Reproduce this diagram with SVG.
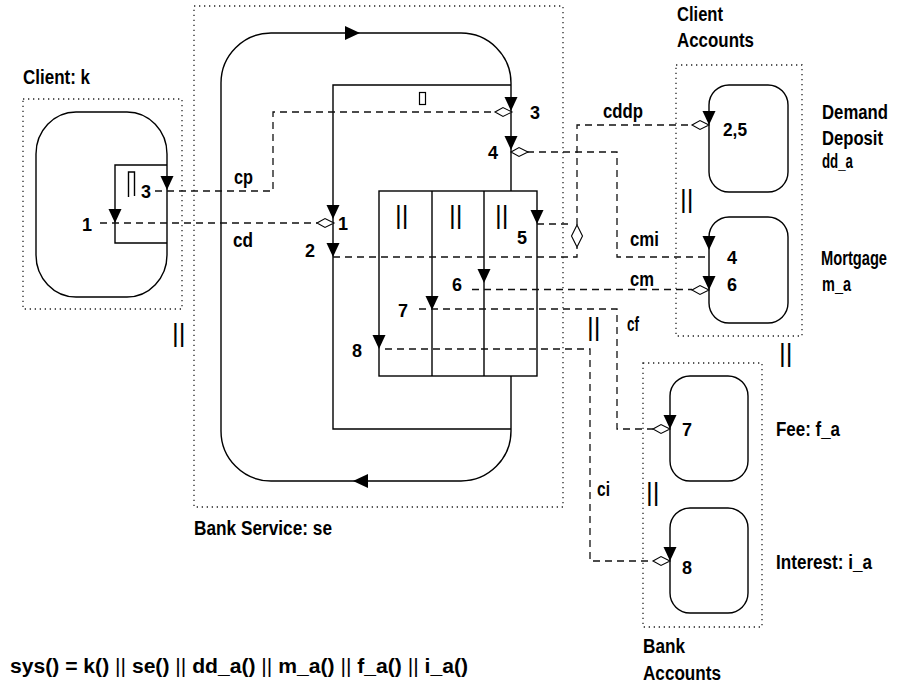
<svg xmlns="http://www.w3.org/2000/svg" xmlns:xlink="http://www.w3.org/1999/xlink" width="902" height="686" viewBox="0 0 902 686">
  <style>
    .lbl { font-family: "Liberation Sans", Arial, sans-serif; font-weight: bold; font-size: 19.5px; fill: #000; }
    .num { font-family: "Liberation Sans", Arial, sans-serif; font-weight: bold; font-size: 18px; fill: #000; }
    .par { font-family: "Liberation Sans", Arial, sans-serif; font-weight: normal; font-size: 26px; fill: #000; }
    .frame { fill: none; stroke: #222; stroke-width: 1.3; stroke-dasharray: 1.3 3.7; }
    .loop { fill: none; stroke: #000; stroke-width: 1.4; }
    .chan { fill: none; stroke: #111; stroke-width: 1.3; stroke-dasharray: 7 5; }
    .head { fill: #000; stroke: none; }
    .dia { fill: #fff; stroke: #000; stroke-width: 1.1; }
  </style>
  <defs>
    <path id="tri" d="M-6.5,-14 L6.5,-14 L0,0 Z"/>
    <path id="dmd" d="M0,0 L8,-4.5 L17,0 L8,4.5 Z"/>
  </defs>
  <rect width="902" height="686" fill="#fff"/>

  <!-- Client process -->
  <g id="client">
    <rect class="frame" x="23" y="99" width="159" height="210"/>
    <text class="lbl" x="23" y="84" textLength="67" lengthAdjust="spacingAndGlyphs">Client: k</text>
    <rect class="loop" x="36" y="112" width="131" height="185" rx="40" ry="42"/>
    <polyline class="loop" points="167,165 115,165 115,243 167,243"/>
    <polyline class="loop" points="128.5,197 128.5,172 134.5,172 134.5,196" stroke-width="1.2"/>
    <use href="#tri" x="167" y="190" class="head"/>
    <use href="#tri" x="115" y="223" class="head"/>
    <text class="num" x="141" y="198">3</text>
    <text class="num" x="82" y="231">1</text>
  </g>

  <!-- Bank service process -->
  <g id="bank-service">
    <rect class="frame" x="194" y="6" width="369" height="501"/>
    <text class="lbl" x="194" y="535" textLength="138" lengthAdjust="spacingAndGlyphs">Bank Service: se</text>
    <path class="loop" d="M511,191 V83 A50,50 0 0 0 461,33 H271 A50,50 0 0 0 221,83 V431 A50,50 0 0 0 271,481 H461 A50,50 0 0 0 511,431 V376"/>
    <polyline class="loop" points="511,85 333,85 333,429 511,429"/>
    <rect class="loop" x="379" y="191" width="158" height="185"/>
    <line class="loop" x1="432" y1="191" x2="432" y2="376"/>
    <line class="loop" x1="484" y1="191" x2="484" y2="376"/>
    <rect x="419.5" y="92.5" width="6" height="12" fill="none" stroke="#000" stroke-width="1.2"/>
    <text class="par" x="395" y="224">||</text>
    <text class="par" x="449" y="224">||</text>
    <text class="par" x="495" y="224">||</text>
    <path class="head" d="M345,26 L360,33 L345,40 Z"/>
    <path class="head" d="M368,474 L353,481 L368,488 Z"/>
    <use href="#tri" x="511" y="111" class="head"/>
    <use href="#tri" x="511" y="150" class="head"/>
    <use href="#tri" x="333" y="219" class="head"/>
    <use href="#tri" x="333" y="257" class="head"/>
    <use href="#tri" x="537" y="224" class="head"/>
    <use href="#tri" x="484" y="283" class="head"/>
    <use href="#tri" x="432" y="310" class="head"/>
    <use href="#tri" x="379" y="349" class="head"/>
    <text class="num" x="530" y="119">3</text>
    <text class="num" x="488" y="159">4</text>
    <text class="num" x="338" y="230">1</text>
    <text class="num" x="305" y="257">2</text>
    <text class="num" x="517" y="244">5</text>
    <text class="num" x="452" y="291">6</text>
    <text class="num" x="398" y="317">7</text>
    <text class="num" x="352" y="357">8</text>
  </g>

  <!-- Client accounts -->
  <g id="client-accounts">
    <rect class="frame" x="676" y="65" width="126" height="271"/>
    <text class="lbl" x="677" y="21" textLength="46" lengthAdjust="spacingAndGlyphs">Client</text>
    <text class="lbl" x="677" y="47" textLength="77" lengthAdjust="spacingAndGlyphs">Accounts</text>
    <text class="par" x="680" y="208">||</text>
  </g>
  <g id="demand-deposit">
    <rect class="loop" x="709" y="85" width="79" height="107" rx="20"/>
    <use href="#tri" x="709" y="125" class="head"/>
    <text class="num" x="723" y="136" textLength="24" lengthAdjust="spacingAndGlyphs">2,5</text>
    <text class="lbl" x="822" y="119" textLength="66" lengthAdjust="spacingAndGlyphs">Demand</text>
    <text class="lbl" x="822" y="145" textLength="61" lengthAdjust="spacingAndGlyphs">Deposit</text>
    <text class="lbl" x="822" y="168" textLength="31" lengthAdjust="spacingAndGlyphs">dd_a</text>
  </g>
  <g id="mortgage">
    <rect class="loop" x="709" y="217" width="79" height="106" rx="20"/>
    <use href="#tri" x="709" y="250" class="head"/>
    <use href="#tri" x="709" y="290" class="head"/>
    <text class="num" x="727" y="264">4</text>
    <text class="num" x="727" y="291">6</text>
    <text class="lbl" x="821" y="265" font-size="16" textLength="66" lengthAdjust="spacingAndGlyphs">Mortgage</text>
    <text class="lbl" x="822" y="291" textLength="29" lengthAdjust="spacingAndGlyphs">m_a</text>
  </g>

  <!-- Bank accounts -->
  <g id="bank-accounts">
    <rect class="frame" x="643" y="363" width="119" height="264"/>
    <text class="lbl" x="643" y="653" textLength="42" lengthAdjust="spacingAndGlyphs">Bank</text>
    <text class="lbl" x="643" y="680" textLength="78" lengthAdjust="spacingAndGlyphs">Accounts</text>
    <text class="par" x="646" y="501">||</text>
  </g>
  <g id="fee">
    <rect class="loop" x="670" y="376" width="78" height="105" rx="20"/>
    <use href="#tri" x="670" y="429" class="head"/>
    <text class="num" x="682" y="436">7</text>
    <text class="lbl" x="776" y="436" textLength="64" lengthAdjust="spacingAndGlyphs">Fee: f_a</text>
  </g>
  <g id="interest">
    <rect class="loop" x="670" y="508" width="78" height="105" rx="20"/>
    <use href="#tri" x="670" y="561" class="head"/>
    <text class="num" x="682" y="574">8</text>
    <text class="lbl" x="776" y="569" textLength="96" lengthAdjust="spacingAndGlyphs">Interest: i_a</text>
  </g>

  <!-- Channels between processes -->
  <g id="connectors">
    <path class="chan" d="M100,223 H317"/>
    <path class="chan" d="M155,191 H273 V112 H495"/>
    <path class="chan" d="M333,257 H577 V247"/>
    <path class="chan" d="M577,225 V125 H692"/>
    <path class="chan" d="M537,224 H571"/>
    <path class="chan" d="M527,152 H617 V257 H709"/>
    <path class="chan" d="M472,289.5 H692"/>
    <path class="chan" d="M419,309 H617 V429 H653"/>
    <path class="chan" d="M385,349 H590 V561 H653"/>
    <use href="#dmd" x="495" y="112" class="dia"/>
    <use href="#dmd" x="317" y="223" class="dia"/>
    <use href="#dmd" x="511" y="152" class="dia"/>
    <use href="#dmd" x="692" y="125" class="dia"/>
    <use href="#dmd" x="692" y="290" class="dia"/>
    <use href="#dmd" x="653" y="429" class="dia"/>
    <use href="#dmd" x="653" y="561" class="dia"/>
    <path class="dia" d="M577,225 L582.5,236 L577,247 L571.5,236 Z"/>
    <text class="lbl" x="234" y="184" textLength="19" lengthAdjust="spacingAndGlyphs">cp</text>
    <text class="lbl" x="233" y="247" textLength="20" lengthAdjust="spacingAndGlyphs">cd</text>
    <text class="lbl" x="603" y="118" textLength="40" lengthAdjust="spacingAndGlyphs">cddp</text>
    <text class="lbl" x="630" y="246" textLength="29" lengthAdjust="spacingAndGlyphs">cmi</text>
    <text class="lbl" x="630" y="286" textLength="24" lengthAdjust="spacingAndGlyphs">cm</text>
    <text class="lbl" x="627" y="331" textLength="12" lengthAdjust="spacingAndGlyphs">cf</text>
    <text class="lbl" x="597" y="496" textLength="13" lengthAdjust="spacingAndGlyphs">ci</text>
    <text class="par" x="172" y="342">||</text>
    <text class="par" x="587" y="336">||</text>
    <text class="par" x="779" y="362">||</text>
  </g>

  <text class="lbl" x="10" y="673" font-size="22" textLength="458" lengthAdjust="spacingAndGlyphs">sys() = k() <tspan font-weight="normal">||</tspan> se() <tspan font-weight="normal">||</tspan> dd_a() <tspan font-weight="normal">||</tspan> m_a() <tspan font-weight="normal">||</tspan> f_a() <tspan font-weight="normal">||</tspan> i_a()</text>
</svg>
